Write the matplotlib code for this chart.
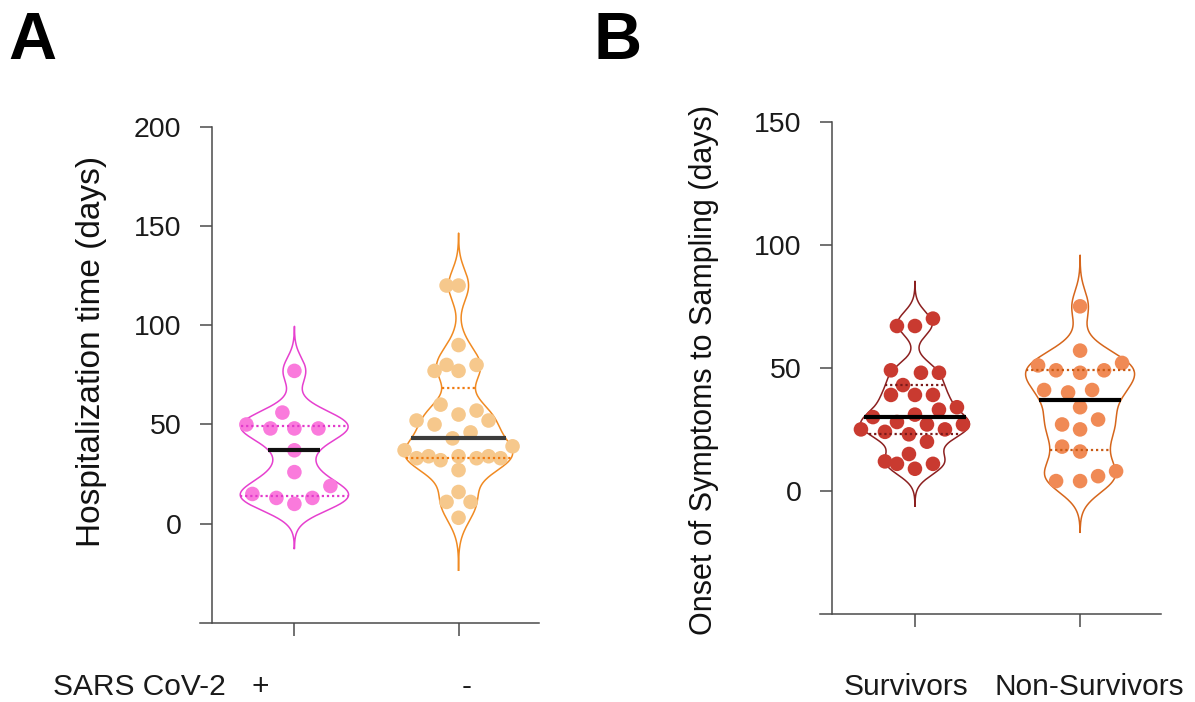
import numpy as np
import matplotlib
matplotlib.use('Agg')
import matplotlib.pyplot as plt

plt.rcParams['font.family'] = ['Liberation Sans', 'DejaVu Sans']

# panel A: hospitalization time (days) by SARS CoV-2 status
hosp_pos = [77, 56, 48, 48, 48, 50, 37, 26, 19, 10, 15, 13, 13]
hosp_neg = [120, 120, 90, 80, 80, 77, 77, 60, 55, 57, 50, 52, 52, 46, 43, 39,
            33, 33, 34, 37, 33, 32, 34, 34, 27, 16, 11, 11, 3]
a_labels = ['+', '-']

# panel B: onset of symptoms to sampling (days)
surv = [70, 67, 67, 48, 48, 49, 43, 39, 39, 39, 33, 34, 30, 31, 28, 27, 27,
        25, 23, 24, 25, 20, 15, 11, 11, 12, 9]
nonsurv = [75, 57, 52, 51, 49, 48, 49, 41, 40, 41, 34, 27, 29, 25, 16, 18,
           8, 4, 4, 6]
b_labels = ['Survivors', 'Non-Survivors']

W, H = 1195, 702
fig = plt.figure(figsize=(W / 100, H / 100), dpi=100)


def kde(vals, grid, bw):
    v = np.asarray(vals, float)
    return np.exp(-0.5 * ((grid[:, None] - v[None, :]) / bw) ** 2).sum(axis=1)


def swarm(ax, vals, x0, grid, hw, step_px=6.0, dmin_px=18.5):
    # beeswarm in pixel space, kept roughly inside the violin
    vals = np.asarray(vals, float)
    p0 = ax.transData.transform((0, 0))
    p1 = ax.transData.transform((1, 1))
    sx, sy = p1[0] - p0[0], p1[1] - p0[1]
    placed = []
    xs = np.zeros(len(vals))
    for i in np.argsort(vals, kind='stable'):
        y = vals[i] * sy
        lim = max(np.interp(vals[i], grid, hw) * sx + 5, 8)
        nmax = int(lim // step_px)
        cands = [0.0]
        for k in range(1, nmax + 1):
            cands += [-k * step_px, k * step_px]
        best, best_d = None, -1
        for c in cands:
            d = min([np.hypot(c - px, y - py) for px, py in placed] or [1e9])
            if d >= dmin_px:
                best = c
                break
            if d > best_d:
                best, best_d = c, d
        placed.append((best, y))
        xs[i] = x0 + best / sx
    return xs


def violin(ax, vals, x0, bw, line_col, pt_col, q_col, med_col, half=0.33):
    vals = np.asarray(vals, float)
    grid = np.linspace(vals.min() - 3.3 * bw, vals.max() + 3.3 * bw, 400)
    dens = kde(vals, grid, bw)
    dens = dens / dens.max() * half
    ax.plot(np.r_[x0 - dens, (x0 + dens)[::-1], x0 - dens[0]],
            np.r_[grid, grid[::-1], grid[0]], color=line_col, lw=1.1, zorder=2)
    xs = swarm(ax, vals, x0, grid, dens)
    ax.scatter(xs, vals, s=110, color=pt_col, edgecolors='none', zorder=3)
    q1, med, q3 = np.percentile(vals, [25, 50, 75], method='weibull')
    for q in (q1, q3):
        w = np.interp(q, grid, dens)
        ax.plot([x0 - w, x0 + w], [q, q], color=q_col, lw=1.6,
                linestyle=(0, (1, 1.3)), zorder=4)
    w = np.interp(med, grid, dens)
    ax.plot([x0 - w, x0 + w], [med, med], color=med_col, lw=3.0,
            solid_capstyle='butt', zorder=5)


def style_axis(ax, ylim, yticks):
    ax.set_xlim(-0.575, 1.49)
    ax.set_ylim(*ylim)
    ax.set_yticks(yticks)
    ax.set_xticks([0, 1])
    ax.set_xticklabels(['', ''])
    for s in ('top', 'right'):
        ax.spines[s].set_visible(False)
    ax.spines['left'].set_position(('data', -0.5))
    for s in ('left', 'bottom'):
        ax.spines[s].set_color('#4a4a4a')
        ax.spines[s].set_linewidth(1.1)
    ax.tick_params(axis='y', length=8.6, width=1.1, color='#4a4a4a', pad=13.5,
                   labelsize=20.5, labelcolor='#1a1a1a')
    ax.tick_params(axis='x', length=9.4, width=1.1, color='#4a4a4a')
    ax.patch.set_visible(False)


# ---- panel A
axA = fig.add_axes([200 / W, 1 - 623 / H, 339 / W, (623 - 126.7) / H])
style_axis(axA, (-50, 200), [0, 50, 100, 150, 200])
violin(axA, hosp_pos, 0, 6.8, '#E640CF', '#FA7ADC', '#E23ACB', '#111111')
violin(axA, hosp_neg, 1, 8.0, '#F08A22', '#F6C88C', '#F07A10', '#3c3c3c')

fig.text(92 / W, 1 - 351 / H, 'Hospitalization time (days)', rotation=90,
         ha='center', va='center', fontsize=24, color='#111111')
fig.text(53 / W, 1 - 695 / H, 'SARS CoV-2', ha='left', va='baseline',
         fontsize=21.5, color='#1a1a1a')
for lab, xp in zip(a_labels, [260, 467]):
    fig.text(xp / W, 1 - 695 / H, lab, ha='center', va='baseline',
             fontsize=21.5, color='#1a1a1a')

# ---- panel B
axB = fig.add_axes([820 / W, 1 - 614 / H, 341 / W, (614 - 121.7) / H])
style_axis(axB, (-50, 150), [0, 50, 100, 150])
violin(axB, surv, 0, 4.6, '#8C2020', '#C93A30', '#7A1A1A', '#000000')
violin(axB, nonsurv, 1, 6.3, '#D6661C', '#F08A55', '#C85A14', '#000000')

fig.text(704 / W, 1 - 370 / H, 'Onset of Symptoms to Sampling (days)',
         rotation=90, ha='center', va='center', fontsize=22, color='#111111')
for lab, xp in zip(b_labels, [905.5, 1089]):
    fig.text(xp / W, 1 - 695 / H, lab, ha='center', va='baseline',
             fontsize=21.5, color='#1a1a1a')

fig.text(8 / W, 1 - 59 / H, 'A', fontsize=48, fontweight='bold', va='baseline')
fig.text(593 / W, 1 - 59 / H, 'B', fontsize=48, fontweight='bold', va='baseline')

fig.savefig('out.png', dpi=100, facecolor='white')
